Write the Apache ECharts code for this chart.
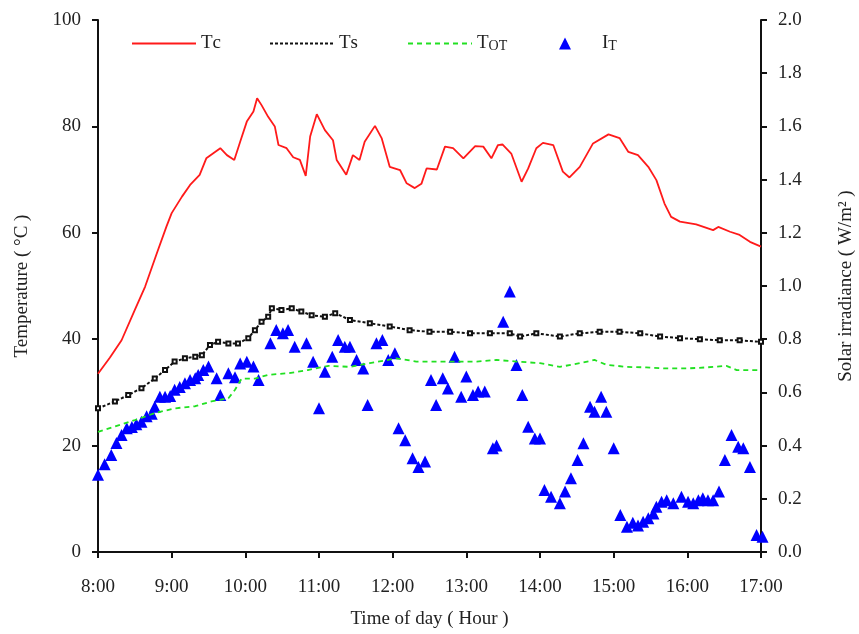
<!DOCTYPE html>
<html>
<head>
<meta charset="utf-8">
<script src="https://cdn.jsdelivr.net/npm/echarts@6/dist/echarts.min.js"></script>
<style>
  html, body { margin: 0; padding: 0; background: #fff; }
  #chart { width: 859px; height: 634px; }
</style>
</head>
<body>
<div id="chart"></div>
<script>
// Tc (collector temperature), degC
var tcHours = [8.0, 8.16, 8.32, 8.5, 8.64, 8.8, 8.93, 9.0, 9.14, 9.25,
  9.38, 9.47, 9.66, 9.75, 9.85, 9.93, 10.02, 10.11, 10.16, 10.22,
  10.31, 10.4, 10.45, 10.56, 10.65, 10.74, 10.82, 10.88, 10.97, 11.08,
  11.19, 11.24, 11.37, 11.46, 11.55, 11.62, 11.76, 11.85, 11.96, 12.1,
  12.19, 12.3, 12.39, 12.46, 12.6, 12.71, 12.82, 12.96, 13.12, 13.23,
  13.34, 13.43, 13.49, 13.61, 13.75, 13.84, 13.95, 14.04, 14.18, 14.31,
  14.4, 14.54, 14.72, 14.93, 15.08, 15.2, 15.33, 15.47, 15.58, 15.69,
  15.78, 15.9, 16.12, 16.35, 16.42, 16.58, 16.71, 16.85, 17.0]
var tcValues = [33.5, 36.5, 39.8, 45.5, 49.9, 56.2, 61.2, 63.7, 66.8, 69.0,
  70.9, 74.0, 75.9, 74.6, 73.7, 77.1, 80.9, 82.8, 85.3, 84.0,
  81.8, 80.0, 76.5, 75.9, 74.2, 73.7, 70.7, 78.1, 82.3, 79.3,
  77.4, 73.7, 70.9, 74.6, 73.7, 77.1, 80.1, 77.8, 72.4, 71.8,
  69.3, 68.4, 69.2, 72.1, 71.9, 76.2, 75.9, 74.0, 76.3, 76.2,
  74.0, 76.5, 76.6, 74.9, 69.6, 72.1, 75.9, 76.9, 76.5, 71.5,
  70.4, 72.4, 76.8, 78.5, 77.8, 75.2, 74.6, 72.4, 69.9, 65.5,
  63.0, 62.1, 61.6, 60.5, 61.1, 60.2, 59.6, 58.3, 57.4]

// Ts
var tsHours = [8.0, 8.23, 8.41, 8.59, 8.77, 8.91, 9.04, 9.18, 9.32, 9.41,
  9.52, 9.63, 9.77, 9.9, 10.04, 10.13, 10.22, 10.31, 10.36, 10.49,
  10.63, 10.76, 10.9, 11.08, 11.22, 11.42, 11.69, 11.96, 12.23, 12.5,
  12.78, 13.05, 13.32, 13.59, 13.73, 13.95, 14.27, 14.54, 14.81, 15.08,
  15.36, 15.63, 15.9, 16.17, 16.44, 16.71, 17.0]
var tsValues = [27.0, 28.3, 29.5, 30.8, 32.6, 34.2, 35.8, 36.4, 36.7, 37.0,
  38.9, 39.5, 39.2, 39.2, 40.2, 41.7, 43.3, 44.2, 45.8, 45.5,
  45.8, 45.2, 44.5, 44.2, 44.9, 43.6, 43.0, 42.4, 41.7, 41.4,
  41.4, 41.1, 41.1, 41.1, 40.5, 41.1, 40.5, 41.1, 41.4, 41.4,
  41.1, 40.5, 40.2, 40.0, 39.8, 39.8, 39.5]

// TOT
var totHours = [8.0, 8.23, 8.5, 8.77, 9.04, 9.32, 9.54, 9.77, 9.86, 9.95,
  10.13, 10.31, 10.58, 10.85, 11.13, 11.42, 11.69, 12.05, 12.32, 12.6,
  12.87, 13.14, 13.41, 13.68, 14.0, 14.27, 14.54, 14.74, 14.9, 15.17,
  15.44, 15.72, 15.99, 16.26, 16.53, 16.67, 17.0]
var totValues = [22.6, 23.6, 24.8, 26.1, 27.0, 27.4, 28.3, 28.9, 30.5, 32.6,
  32.6, 33.3, 33.6, 34.2, 35.0, 34.8, 35.5, 36.4, 35.8, 35.8,
  35.8, 35.8, 36.1, 35.8, 35.5, 34.8, 35.5, 36.1, 35.2, 34.8,
  34.7, 34.5, 34.5, 34.7, 35.0, 34.2, 34.2]

// IT solar irradiance (right axis)
var itHours = [8.0, 8.09, 8.18, 8.25, 8.32, 8.39, 8.46, 8.52, 8.59, 8.66,
  8.73, 8.77, 8.84, 8.91, 8.98, 9.04, 9.11, 9.18, 9.25, 9.32,
  9.36, 9.43, 9.5, 9.61, 9.66, 9.77, 9.86, 9.93, 10.02, 10.11,
  10.18, 10.34, 10.42, 10.51, 10.58, 10.67, 10.83, 10.92, 11.0, 11.08,
  11.18, 11.26, 11.35, 11.42, 11.51, 11.6, 11.66, 11.78, 11.86, 11.94,
  12.03, 12.08, 12.17, 12.27, 12.35, 12.44, 12.52, 12.59, 12.68, 12.75,
  12.84, 12.93, 13.0, 13.09, 13.16, 13.25, 13.36, 13.41, 13.5, 13.59,
  13.68, 13.76, 13.84, 13.93, 14.0, 14.06, 14.15, 14.27, 14.34, 14.42,
  14.51, 14.59, 14.68, 14.74, 14.83, 14.9, 15.0, 15.09, 15.18, 15.26,
  15.33, 15.4, 15.47, 15.54, 15.58, 15.65, 15.72, 15.81, 15.92, 16.01,
  16.08, 16.15, 16.21, 16.28, 16.35, 16.43, 16.51, 16.6, 16.69, 16.76,
  16.85, 16.94, 17.02]
var itValues = [0.29, 0.33, 0.365, 0.41, 0.44, 0.465, 0.47, 0.48, 0.49, 0.51,
  0.52, 0.546, 0.584, 0.584, 0.586, 0.61, 0.62, 0.634, 0.647, 0.653,
  0.665, 0.684, 0.697, 0.653, 0.59, 0.672, 0.657, 0.709, 0.715, 0.697,
  0.647, 0.785, 0.835, 0.822, 0.835, 0.772, 0.785, 0.715, 0.54, 0.678,
  0.734, 0.797, 0.772, 0.772, 0.722, 0.69, 0.553, 0.785, 0.797, 0.722,
  0.747, 0.465, 0.42, 0.352, 0.32, 0.34, 0.647, 0.553, 0.653, 0.615,
  0.734, 0.584, 0.66, 0.59, 0.603, 0.603, 0.39, 0.40, 0.866, 0.979,
  0.703, 0.59, 0.471, 0.427, 0.427, 0.233, 0.208, 0.183, 0.227, 0.277,
  0.346, 0.409, 0.546, 0.527, 0.584, 0.527, 0.39, 0.139, 0.095, 0.11,
  0.10, 0.114, 0.127, 0.145, 0.17, 0.189, 0.195, 0.183, 0.208, 0.189,
  0.183, 0.195, 0.202, 0.195, 0.195, 0.227, 0.346, 0.44, 0.396, 0.39,
  0.32, 0.064, 0.057]

function pairs(xs, ys) {
  return xs.map(function (x, i) { return [x, ys[i]] })
}

var font = 'Liberation Serif'
var txt = { fontFamily: font, fontSize: 19, color: '#222' }
var legendRich = {
  a: { fontFamily: font, fontSize: 19, color: '#222' },
  b: { fontFamily: font, fontSize: 14, color: '#222', padding: [6, 0, 0, 0] }
}
var legendLabel = { Tc: '{a|T}{a|c}', Ts: '{a|T}{a|s}', TOT: '{a|T}{b|OT}', IT: '{a|I}{b|T}' }

// 线条图例：隐藏中间的符号
function lineLegend(name, left) {
  return {
    data: [name], left: left, top: 29, itemWidth: 64, itemHeight: 13, itemGap: 0,
    itemStyle: { opacity: 0 },
    textStyle: { rich: legendRich },
    formatter: function (n) { return legendLabel[n] }
  }
}

var axisLine = { show: true, lineStyle: { color: '#111', width: 2 } }
var axisTick = { show: true, inside: false, length: 6, lineStyle: { color: '#111', width: 2 } }

var myChart = echarts.init(document.getElementById('chart'))
var option = {
  animation: false,
  backgroundColor: '#fff',
  grid: { left: 98, right: 98, top: 20, bottom: 82, outerBoundsMode: 'none', containLabel: false },
  legend: [
    lineLegend('Tc', 126), lineLegend('Ts', 264), lineLegend('TOT', 402),
    {
      data: ['IT'], left: 554, top: 29, itemWidth: 12, itemHeight: 12,
      textStyle: { rich: legendRich, padding: [0, 0, 0, 26] },
      formatter: function (n) { return legendLabel[n] }
    }
  ],
  xAxis: {
    type: 'value', min: 8, max: 17, interval: 1,
    name: 'Time of day ( Hour )', nameLocation: 'middle', nameGap: 58,
    nameTextStyle: txt,
    axisLine: axisLine, axisTick: axisTick, splitLine: { show: false },
    axisLabel: Object.assign({ margin: 26, formatter: function (v) { return v + ':00' } }, txt)
  },
  yAxis: [{
    type: 'value', min: 0, max: 100, interval: 20,
    name: 'Temperature ( °C )', nameLocation: 'middle', nameGap: 66, nameRotate: 90,
    nameTextStyle: txt,
    axisLine: axisLine, axisTick: axisTick, splitLine: { show: false },
    axisLabel: Object.assign({ margin: 17 }, txt)
  }, {
    type: 'value', min: 0, max: 2, interval: 0.2, position: 'right',
    name: 'Solar irradiance ( W/m² )', nameLocation: 'middle', nameGap: 76, nameRotate: 90,
    nameTextStyle: txt,
    axisLine: axisLine, axisTick: axisTick, splitLine: { show: false },
    axisLabel: Object.assign({ margin: 17, formatter: function (v) { return v.toFixed(1) } }, txt)
  }],
  series: [{
    name: 'Tc', type: 'line', symbol: 'none', data: pairs(tcHours, tcValues),
    lineStyle: { color: '#ff1a1a', width: 1.8 }, itemStyle: { color: '#ff1a1a' }
  }, {
    name: 'Ts', type: 'line', symbol: 'emptyRect', symbolSize: 4, showSymbol: true,
    data: pairs(tsHours, tsValues),
    lineStyle: { color: '#111', width: 2, type: [3, 2] }, itemStyle: { color: '#111', borderWidth: 1.2 }
  }, {
    name: 'TOT', type: 'line', symbol: 'none', data: pairs(totHours, totValues),
    lineStyle: { color: '#22e022', width: 1.8, type: [5, 4] }, itemStyle: { color: '#22e022' }
  }, {
    name: 'IT', type: 'scatter', yAxisIndex: 1, symbol: 'triangle', symbolSize: 12, clip: false,
    data: pairs(itHours, itValues), itemStyle: { color: '#0000ff', opacity: 1 }
  }]
}
myChart.setOption(option)
</script>
</body>
</html>
